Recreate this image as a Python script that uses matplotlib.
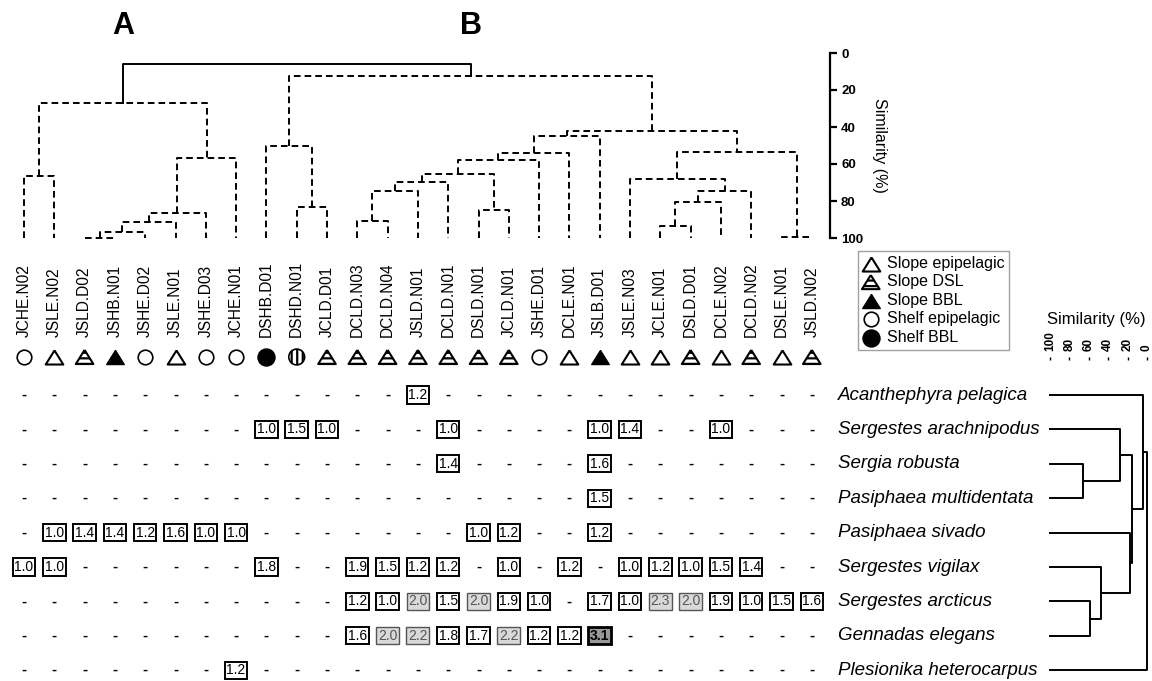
import matplotlib
matplotlib.use('Agg')
import matplotlib.pyplot as plt
from matplotlib.transforms import blended_transform_factory

plt.rcParams['font.family'] = ['Liberation Sans', 'DejaVu Sans']
plt.rcParams['hatch.linewidth'] = 1.6
plt.rcParams['lines.scale_dashes'] = False

# ---- data ----
samples = ['JCHE.N02', 'JSLE.N02', 'JSLD.D02', 'JSHB.N01', 'JSHE.D02', 'JSLE.N01',
           'JSHE.D03', 'JCHE.N01', 'DSHB.D01', 'DSHD.N01', 'JCLD.D01', 'DCLD.N03',
           'DCLD.N04', 'JSLD.N01', 'DCLD.N01', 'DSLD.N01', 'JCLD.N01', 'JSHE.D01',
           'DCLE.N01', 'JSLB.D01', 'JSLE.N03', 'JCLE.N01', 'DSLD.D01', 'DCLE.N02',
           'DCLD.N02', 'DSLE.N01', 'JSLD.N02']
# SE slope epipelagic, SD slope DSL, SB slope BBL, HE shelf epipelagic, HB shelf BBL, HD shelf DSL
habitat = ['HE', 'SE', 'SD', 'SB', 'HE', 'SE', 'HE', 'HE', 'HB', 'HD', 'SD', 'SD', 'SD', 'SD',
           'SD', 'SD', 'SD', 'HE', 'SE', 'SB', 'SE', 'SE', 'SD', 'SE', 'SD', 'SE', 'SD']

species = ['Acanthephyra pelagica', 'Sergestes arachnipodus', 'Sergia robusta',
           'Pasiphaea multidentata', 'Pasiphaea sivado', 'Sergestes vigilax',
           'Sergestes arcticus', 'Gennadas elegans', 'Plesionika heterocarpus']

N = None
abundance = [
    [N, N, N, N, N, N, N, N, N, N, N, N, N, 1.2, N, N, N, N, N, N, N, N, N, N, N, N, N],
    [N, N, N, N, N, N, N, N, 1.0, 1.5, 1.0, N, N, N, 1.0, N, N, N, N, 1.0, 1.4, N, N, 1.0, N, N, N],
    [N, N, N, N, N, N, N, N, N, N, N, N, N, N, 1.4, N, N, N, N, 1.6, N, N, N, N, N, N, N],
    [N, N, N, N, N, N, N, N, N, N, N, N, N, N, N, N, N, N, N, 1.5, N, N, N, N, N, N, N],
    [N, 1.0, 1.4, 1.4, 1.2, 1.6, 1.0, 1.0, N, N, N, N, N, N, N, 1.0, 1.2, N, N, 1.2, N, N, N, N, N, N, N],
    [1.0, 1.0, N, N, N, N, N, N, 1.8, N, N, 1.9, 1.5, 1.2, 1.2, N, 1.0, N, 1.2, N, 1.0, 1.2, 1.0, 1.5, 1.4, N, N],
    [N, N, N, N, N, N, N, N, N, N, N, 1.2, 1.0, 2.0, 1.5, 2.0, 1.9, 1.0, N, 1.7, 1.0, 2.3, 2.0, 1.9, 1.0, 1.5, 1.6],
    [N, N, N, N, N, N, N, N, N, N, N, 1.6, 2.0, 2.2, 1.8, 1.7, 2.2, 1.2, 1.2, 3.1, N, N, N, N, N, N, N],
    [N, N, N, N, N, N, N, 1.2, N, N, N, N, N, N, N, N, N, N, N, N, N, N, N, N, N, N, N],
]

# linkage of samples: (child a, child b, similarity %), new node ids start at len(samples)
sample_links = [
    (2, 3, 100), (27, 4, 97), (28, 5, 91.5), (29, 6, 86.5), (30, 7, 57),
    (0, 1, 66.5), (32, 31, 27),
    (9, 10, 83), (8, 34, 50),
    (11, 12, 91), (36, 13, 74.6), (37, 14, 69.7), (15, 16, 85), (38, 39, 65.4),
    (40, 17, 58), (41, 18, 54), (42, 19, 45),
    (21, 22, 93.5), (44, 23, 80.5), (45, 24, 74.6), (20, 46, 68), (25, 26, 99.5),
    (47, 48, 53.5), (43, 49, 42), (35, 50, 12.5), (33, 51, 6),
]
solid_links = [52]

# linkage of species, ids start at len(species)
species_links = [
    (2, 3, 66), (1, 9, 28), (6, 7, 59), (5, 11, 47), (4, 12, 18),
    (10, 13, 15.5), (0, 14, 4), (15, 8, 0),
]

sim_ticks = [0, 20, 40, 60, 80, 100]
legend_labels = ['Slope epipelagic', 'Slope DSL', 'Slope BBL', 'Shelf epipelagic', 'Shelf BBL']
legend_codes = ['SE', 'SD', 'SB', 'HE', 'HB']

# ---- layout ----
W, H = 1152, 681
fig = plt.figure(figsize=(W / 100, H / 100), dpi=100)


def px_box(x0, y0, x1, y1):
    return [x0 / W, 1 - y1 / H, (x1 - x0) / W, (y1 - y0) / H]


col0, dcol = 24, 30.3
row0, drow = 395, 34.4
xlim_cols = (-col0 / dcol, (830 - col0) / dcol)
dash = (0, (4.8, 2.9))


def draw_tree(ax, links, n, leaf_level, vertical, solid=()):
    pos = list(range(n))
    hgt = [leaf_level] * n
    for k, (a, b, h) in enumerate(links):
        ls = '-' if n + k in solid else (dash if vertical else '-')
        xs = [pos[a], pos[a], pos[b], pos[b]]
        ys = [hgt[a], h, h, hgt[b]]
        if vertical:
            ax.plot(xs, ys, color='black', lw=1.4, ls=ls, clip_on=False)
        else:
            ax.plot(ys, xs, color='black', lw=1.4, ls=ls, clip_on=False)
        pos.append((pos[a] + pos[b]) / 2)
        hgt.append(h)
    return pos


# top dendrogram
ax_t = fig.add_axes(px_box(0, 53, 830, 238))
node_x = draw_tree(ax_t, sample_links, len(samples), 100, True, solid_links)
ax_t.set_xlim(*xlim_cols)
ax_t.set_ylim(100, 0)
for s in ['top', 'left', 'bottom']:
    ax_t.spines[s].set_visible(False)
ax_t.spines['right'].set_bounds(0, 100)
ax_t.spines['right'].set_linewidth(1.6)
ax_t.set_xticks([])
ax_t.yaxis.tick_right()
ax_t.set_yticks(sim_ticks)
ax_t.tick_params(axis='y', direction='out', length=5, width=1.6, pad=3, labelsize=9.5)
for lab in ax_t.get_yticklabels():
    lab.set_fontweight('bold')
ax_t.yaxis.set_label_position('right')
ax_t.set_ylabel('Similarity (%)', rotation=270, va='bottom', fontsize=11.5, labelpad=6)

tr = blended_transform_factory(ax_t.transData, ax_t.transAxes)
ax_t.text(node_x[33], 1.146, 'A', transform=tr, ha='center', va='center',
          fontsize=22, fontweight='bold')
ax_t.text(node_x[51], 1.146, 'B', transform=tr, ha='center', va='center',
          fontsize=22, fontweight='bold')

# matrix with sample labels and habitat symbols
ax_m = fig.add_axes(px_box(0, 245, 830, 681))
ax_m.set_xlim(*xlim_cols)
ax_m.set_ylim((681 - row0) / drow, (245 - row0) / drow)
ax_m.axis('off')

y_lab = (337 - row0) / drow
y_sym = (357 - row0) / drow
for c, name in enumerate(samples):
    ax_m.text(c, y_lab, name, rotation=90, ha='center', va='bottom', fontsize=11.2)

tri = [(0, 0.8), (-1, -0.8), (1, -0.8), (0, 0.8)]
sym_style = {
    'SE': dict(marker=tri, s=160, facecolors='white', edgecolors='black', linewidths=1.5),
    'SD': dict(marker=tri, s=160, facecolors='white', edgecolors='black', linewidths=1.5, hatch='---'),
    'SB': dict(marker=tri, s=160, facecolors='black', edgecolors='black', linewidths=1.0),
    'HE': dict(marker='o', s=110, facecolors='white', edgecolors='black', linewidths=1.2),
    'HB': dict(marker='o', s=150, facecolors='black', edgecolors='black', linewidths=1.0),
    'HD': dict(marker='o', s=130, facecolors='white', edgecolors='black', linewidths=1.2, hatch='|||'),
}
handles = {}
for code, st in sym_style.items():
    cols = [c for c, h in enumerate(habitat) if h == code]
    handles[code] = ax_m.scatter(cols, [y_sym] * len(cols), clip_on=False, **st)

for r, row in enumerate(abundance):
    for c, v in enumerate(row):
        if v is None:
            ax_m.text(c, r, '-', ha='center', va='center', fontsize=11, fontweight='bold')
            continue
        if v >= 3:
            fc, ec, tc, lw, fw = '#999999', 'black', 'black', 2.0, 'bold'
        elif v >= 2:
            fc, ec, tc, lw, fw = '#d9d9d9', '#555555', '#555555', 1.0, 'normal'
        else:
            fc, ec, tc, lw, fw = 'white', 'black', 'black', 1.4, 'normal'
        ax_m.text(c, r, f'{v:.1f}', ha='center', va='center', fontsize=10, color=tc,
                  fontweight=fw,
                  bbox=dict(boxstyle='square,pad=0.12', fc=fc, ec=ec, lw=lw))

for r, name in enumerate(species):
    ax_m.text((838 - col0) / dcol, r, name, ha='left', va='center', fontsize=13.5,
              style='italic', clip_on=False)

# species dendrogram
ax_s = fig.add_axes(px_box(1040, 360, 1152, 681))
draw_tree(ax_s, species_links, len(species), 100, False)
ax_s.set_xlim(100 + 10 / 0.97, -5 / 0.97)
ax_s.set_ylim((681 - row0) / drow, (360 - row0) / drow)
for s in ax_s.spines.values():
    s.set_visible(False)
ax_s.set_yticks([])
ax_s.xaxis.tick_top()
ax_s.set_xticks(sim_ticks)
ax_s.tick_params(axis='x', direction='out', length=2.5, width=1, pad=4, labelsize=8.5,
                 labelrotation=90)
for lab in ax_s.get_xticklabels():
    lab.set_fontweight('bold')
ax_s.xaxis.set_label_position('top')
ax_s.set_xlabel('Similarity (%)', fontsize=12, labelpad=5)

fig.legend([handles[c] for c in legend_codes], legend_labels, loc='upper left',
           bbox_to_anchor=(858 / W, 1 - 251 / H), borderaxespad=0, frameon=True,
           fancybox=False, edgecolor='#888888', fontsize=11.5, handlelength=1.0,
           handletextpad=0.5, labelspacing=0.22, borderpad=0.3, scatterpoints=1)

fig.savefig('out.png', dpi=100)
